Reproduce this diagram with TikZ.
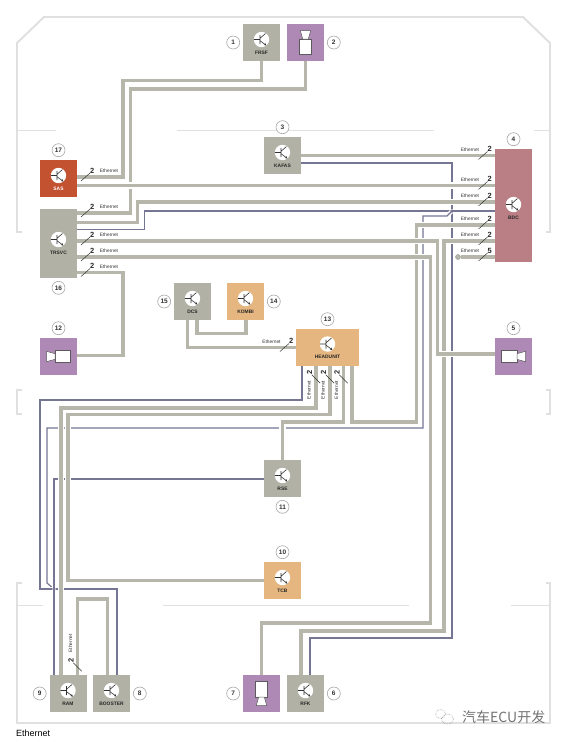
\documentclass[tikz,border=0pt]{standalone}
\usepackage{fontspec}
\setmainfont{Liberation Sans}
\newfontfamily\cjkfont{Noto Sans CJK SC}
\usepackage{xcolor}
\usetikzlibrary{arrows.meta, positioning}
\definecolor{framegray}{RGB}{224, 224, 224}
\definecolor{cablegray}{RGB}{182, 183, 170}
\definecolor{boxgray}{RGB}{177, 178, 165}
\definecolor{thinblue}{RGB}{116, 118, 148}
\definecolor{sasred}{RGB}{194, 82, 48}
\definecolor{bdcrose}{RGB}{185, 127, 132}
\definecolor{campurple}{RGB}{174, 137, 181}
\definecolor{huorange}{RGB}{229, 182, 128}
\definecolor{inkgray}{RGB}{50, 50, 50}

\begin{document}
\begin{tikzpicture}[
    x=1pt, y=-1pt,
    box/.style    = {rectangle, inner sep=0pt, outer sep=0pt, minimum width=37pt, minimum height=37pt},
    badge/.style  = {circle, draw=gray!70, line width=0.6pt, fill=white, inner sep=0pt, minimum size=13pt,
                     font=\fontsize{6.5}{7}\selectfont\bfseries, text=inkgray},
    wall/.style   = {draw=framegray, line width=1.9pt},
    cable/.style  = {draw=cablegray, line width=3.4pt, preaction={draw=white, line width=6.2pt}},
    wire/.style   = {draw=thinblue, line width=1.2pt, preaction={draw=white, line width=4pt}},
    dotj/.style   = {circle, fill=thinblue, inner sep=0pt, minimum size=3.6pt},
    stubend/.style= {circle, draw=gray!80, fill=cablegray, line width=0.4pt, inner sep=0pt, minimum size=5pt},
    boxlbl/.style = {inner sep=0pt, font=\fontsize{4.9}{5}\selectfont\bfseries, text=black!85},
    ethlbl/.style = {inner sep=0pt, font=\fontsize{4.8}{5}\selectfont, text=inkgray},
    numlbl/.style = {inner sep=0pt, font=\fontsize{7.5}{8}\selectfont\bfseries, text=black!85},
    pics/ecuicon/.style = {code={
      \fill[white] (0,-3) circle (7.7pt);
      \draw[inkgray, line width=0.6pt] (-7.7,-3) -- (-1.5,-3) (-1.5,-7.5) -- (-1.5,1.5) (-1.5,-4.2) -- (4,-9);
      \draw[inkgray, line width=0.6pt, -{Stealth[length=2.6pt, width=2.4pt]}] (-1.5,-1.8) -- (5,3);
      \node[boxlbl] (-name) at (0,10) {#1};
    }},
    pics/camicon/.style = {code={
      \draw[fill=white, draw=inkgray!80, line width=0.5pt] (-12,-6) rectangle (3.5,6);
      \draw[fill=white, draw=inkgray!80, line width=0.5pt] (3.5,-2.8) -- (12,-5.2) -- (12,5.2) -- (3.5,2.8) -- cycle;
    }},
    pics/tagh/.style 2 args = {code={
      \draw[inkgray, line width=0.5pt] (-4.5,4) -- (4.5,-4);
      \node[numlbl] (-num) at (6.8,-6.2) {#1};
      \node[ethlbl] (-eth) at (#2,-6.2) {Ethernet};
    }},
    pics/tagv/.style 2 args = {code={
      \draw[inkgray, line width=0.5pt] (-4.2,-4.2) -- (4.2,4.2);
      \node[numlbl, rotate=90] (-num) at (-6.6,-7) {#1};
      \node[ethlbl, rotate=90] (-eth) at (-7.2,#2) {Ethernet};
    }},
  ]
  \path[fill=white, use as bounding box] (0,0) rectangle (562,742);

  %% Vehicle outline
  \draw[wall] (22,232) -- (17,232) -- (17,43) -- (44,17) -- (523,17) -- (550,43) -- (550,232) -- (546,232);
  \draw[wall] (22,390) -- (17,390) -- (17,414) -- (22,414);
  \draw[wall] (546,390) -- (550,390) -- (550,414) -- (546,414);
  \draw[wall] (22,583) -- (17,583) -- (17,723) -- (550,723) -- (550,583) -- (546,583);
  \draw[wall] (17,130.5) -- (56,130.5) (177,130.5) -- (434,130.5) (534,130.5) -- (550,130.5);
  \draw[wall] (17,605.5) -- (43,605.5) (163,605.5) -- (409,605.5) (511,605.5) -- (550,605.5);

  %% Control units
  \node[box, fill=boxgray]   (frsf)    at (261.5,42.5)  {};
  \node[box, fill=campurple] (camtop)  at (305.5,42.5)  {};
  \node[box, fill=boxgray]   (kafas)   at (282.5,155.5) {};
  \node[box, fill=sasred]    (sas)     at (58.5,178.5)  {};
  \node[box, fill=boxgray, minimum height=69pt]  (trsvc) at (58.5,243.5) {};
  \node[box, fill=bdcrose, minimum height=113pt] (bdc)   at (513.5,205.5) {};
  \node[box, fill=campurple] (camright) at (513.5,356.5) {};
  \node[box, fill=campurple] (camleft)  at (58.5,356.5)  {};
  \node[box, fill=boxgray]   (dcs)     at (192.5,301.5) {};
  \node[box, fill=huorange]  (kombi)   at (245.5,301.5) {};
  \node[box, fill=huorange, minimum width=63pt] (headunit) at (327.5,347.5) {};
  \node[box, fill=boxgray]   (rse)     at (282.5,478.5) {};
  \node[box, fill=huorange]  (tcb)     at (282.5,580.5) {};
  \node[box, fill=boxgray]   (ram)     at (68,693.5)    {};
  \node[box, fill=boxgray]   (booster) at (111.5,693.5) {};
  \node[box, fill=campurple] (camrear) at (261.5,693.5) {};
  \node[box, fill=boxgray]   (rfk)     at (305.5,693.5) {};

  %% Number badges
  \node[badge, left=3pt of frsf]      (n1)  {1};
  \node[badge, right=3pt of camtop]   (n2)  {2};
  \node[badge, above=3pt of kafas]    (n3)  {3};
  \node[badge, above=3pt of bdc]      (n4)  {4};
  \node[badge, above=3pt of camright] (n5)  {5};
  \node[badge, right=3pt of rfk]      (n6)  {6};
  \node[badge, left=3pt of camrear]   (n7)  {7};
  \node[badge, right=3pt of booster]  (n8)  {8};
  \node[badge, left=3pt of ram]       (n9)  {9};
  \node[badge, above=3pt of tcb]      (n10) {10};
  \node[badge, below=3pt of rse]      (n11) {11};
  \node[badge, above=3pt of camleft]  (n12) {12};
  \node[badge, above=3pt of headunit] (n13) {13};
  \node[badge, right=3pt of kombi]    (n14) {14};
  \node[badge, left=3pt of dcs]       (n15) {15};
  \node[badge, below=3pt of trsvc]    (n16) {16};
  \node[badge, above=3pt of sas]      (n17) {17};

  \coordinate (jright) at (452,211);
  \coordinate (jleft)  at (54,589);
  \node[stubend] (stub) at (458,257) {};

  %% Thin wires, below the cables
  \draw[wire] (kafas.east |- 0,163) -| (452,638) -| (310,0 |- rfk.north);
  \draw[wire] (trsvc.east |- 0,229.5) -| (144.5,211) -- (bdc.west |- 0,211);
  \draw[wire] (jright) -- (447,216) -| (423,428) -| (47,583) -- (jleft);
  \draw[wire] (302,0 |- headunit.south) |- (40,400) |- (117,589) -- (117,0 |- booster.north);
  \draw[wire] (rse.west |- 0,479) -| (54,0 |- ram.north);

  %% Cables
  \draw[cable] (316,0 |- headunit.south) |- (61,408) -- (61,0 |- ram.north);
  \draw[cable] (330,0 |- headunit.south) |- (68,414.5) |- (tcb.west);
  \draw[cable] (343.5,0 |- headunit.south) |- (rse.north |- 0,422) -- (rse.north);
  \draw[cable] (352,0 |- headunit.south) |- (416.5,422) |- (bdc.west |- 0,225);
  \draw[cable] (frsf.south) |- (123,80.5) |- (sas.east |- 0,177);
  \draw[cable] (camtop.south) |- (130.5,89) |- (trsvc.east |- 0,213);
  \draw[cable] (sas.east |- 0,185.5) -- (bdc.west |- 0,185.5);
  \draw[cable] (kafas.east) -- (bdc.west |- kafas.east);
  \draw[cable] (trsvc.east |- 0,222.5) -| (137.5,202) -- (bdc.west |- 0,202);
  \draw[cable] (bdc.west |- 0,241) -| (444,631) -| (301,0 |- rfk.north);
  \draw[cable] (trsvc.east |- 0,241) -| (437.5,354) -- (camright.west |- 0,354);
  \draw[cable] (trsvc.east |- 0,257) -| (430.5,623) -| (camrear.north);
  \draw[cable] (bdc.west |- 0,257) -- (stub);
  \draw[cable] (trsvc.east |- 0,272.5) -| (123,355.5) -- (camleft.east |- 0,355.5);
  \draw[cable] (187.5,0 |- dcs.south) |- (headunit.west |- 0,347.5);
  \draw[cable] (197,0 |- dcs.south) |- (246,333.5) -- (246,0 |- kombi.south);
  \draw[cable] (77.5,0 |- ram.north) |- (107.5,599) -- (107.5,0 |- booster.north);

  \node[dotj] (dotright) at (jright) {};
  \node[dotj] (dotleft)  at (jleft)  {};

  %% Icons inside the boxes
  \pic (ifrsf)  at (frsf)     {ecuicon={FRSF}};
  \pic (ikafas) at (kafas)    {ecuicon={KAFAS}};
  \pic (isas)   at (sas)      {ecuicon={\textcolor{white}{SAS}}};
  \pic (itrsvc) at (58.5,242.5) {ecuicon={TRSVC}};
  \pic (ibdc)   at (513.5,207.5) {ecuicon={BDC}};
  \pic (idcs)   at (dcs)      {ecuicon={DCS}};
  \pic (ikombi) at (kombi)    {ecuicon={KOMBI}};
  \pic (ihu)    at (327.5,347) {ecuicon={HEADUNIT}};
  \pic (irse)   at (rse)      {ecuicon={RSE}};
  \pic (itcb)   at (tcb)      {ecuicon={TCB}};
  \pic (iram)   at (ram)      {ecuicon={RAM}};
  \pic (ibst)   at (booster)  {ecuicon={BOOSTER}};
  \pic (irfk)   at (rfk)      {ecuicon={RFK}};
  \pic[rotate=90]  at (camtop)   {camicon};
  \pic             at (camright) {camicon};
  \pic[rotate=180] at (camleft)  {camicon};
  \pic[rotate=-90] at (camrear)  {camicon};

  %% Ethernet tags
  \pic (tsas) at (85.5,177)   {tagh={2}{23.5}};
  \pic (tt1)  at (85.5,213)   {tagh={2}{23.5}};
  \pic (tt2)  at (85.5,241)   {tagh={2}{23.5}};
  \pic (tt3)  at (85.5,257)   {tagh={2}{23.5}};
  \pic (tt4)  at (85.5,272.5) {tagh={2}{23.5}};
  \pic (tb1)  at (483,155.5)  {tagh={2}{-13}};
  \pic (tb2)  at (483,185.5)  {tagh={2}{-13}};
  \pic (tb3)  at (483,202)    {tagh={2}{-13}};
  \pic (tb4)  at (483,225)    {tagh={2}{-13}};
  \pic (tb5)  at (483,241)    {tagh={2}{-13}};
  \pic (tb6)  at (483,257)    {tagh={5}{-13}};
  \pic (tdcs) at (284.5,347.5) {tagh={2}{-13}};
  \pic (th1)  at (316,379)    {tagv={2}{11}};
  \pic (th2)  at (330,379)    {tagv={2}{11}};
  \pic (th3)  at (343.5,379)  {tagv={2}{11}};
  \pic (tram) at (77.5,667)   {tagv={2}{-23.7}};

  %% Watermark and caption
  \node[inner sep=0pt, anchor=west, text=black!55, font=\fontsize{14}{15}\cjkfont] (mark) at (462,717.5) {汽车ECU开发};
  \draw[black!45, line width=0.5pt, densely dotted] (440.5,714) ellipse (5pt and 4.5pt) (447.5,719) ellipse (6pt and 5pt);
  \node[inner sep=0pt, anchor=west, text=black, font=\fontsize{9}{10}\selectfont] (caption) at (16,733.5) {Ethernet};
\end{tikzpicture}
\end{document}
